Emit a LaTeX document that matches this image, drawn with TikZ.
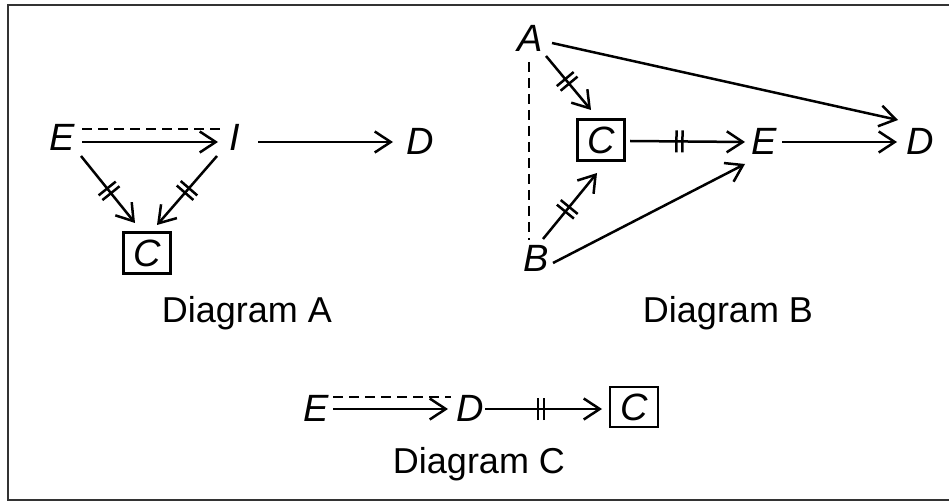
\documentclass[tikz,border=0pt]{standalone}
\usepackage{fontspec}
\setmainfont{Liberation Sans}
\usetikzlibrary{arrows.meta,calc,decorations.markings}
\tikzset{
  lt/.style={inner sep=0pt, font=\fontsize{38}{44}\selectfont\itshape},
  bx/.style={draw, line width=2.2pt, inner sep=0pt, minimum width=47pt, minimum height=41pt, font=\fontsize{38}{44}\selectfont\itshape},
  captxt/.style={inner sep=0pt, font=\fontsize{36}{42}\selectfont},
  ln/.style={line width=2.5pt},
  arr/.style={ln, -{Straight Barb[length=16pt,width=21pt,line width=2.5pt]}},
  dsh/.style={ln, dash pattern=on 10pt off 6pt},
  ticks/.style={postaction={decorate, decoration={markings, mark=at position #1 with {
     \draw[arrows=-, line width=2.5pt] (-3pt,-11pt) -- (-3pt,11pt);
     \draw[arrows=-, line width=2.5pt] (3pt,-11pt) -- (3pt,11pt);}}}},
  ticks/.default=0.5
}
\begin{document}
\begin{tikzpicture}[x=1pt,y=-1pt]
\useasboundingbox (0,0) rectangle (949,502);
\draw[line width=2pt, black!80] (949,5) -- (8,5) -- (8,500) -- (949,500);

% Diagram A
\node[lt] (EA) at (62,137) {E};
\node[lt] (IA) at (235,137) {I};
\node[lt] (DA) at (420,141) {D};
\node[bx] (CA) at (147,253) {C};
\node[captxt] (LA) at (247,313) {Diagram A};
\draw[dsh] ($(EA)+(20,-8)$) -- ($(IA)+(-12,-8)$);
\draw[arr] ($(EA)+(20,5)$) -- ($(IA)+(-17,5)$);
\draw[arr] ($(IA)+(23,5)$) -- ($(DA)+(-27,1)$);
\draw[arr, ticks=0.52] ($(EA)+(19,19)$) -- ($(CA)+(-12,-30)$);
\draw[arr, ticks=0.5] ($(IA)+(-18,19)$) -- ($(CA)+(10,-28)$);

% Diagram B
\node[lt] (AB) at (530,38) {A};
\node[lt] (BB) at (536,258) {B};
\node[bx] (CB) at (601,140) {C};
\node[lt] (EB) at (764,141) {E};
\node[lt] (DB) at (920,141) {D};
\node[captxt] (LB) at (728,313) {Diagram B};
\draw[dsh] ($(AB)+(-1,24)$) -- ($(BB)+(-7,-18)$);
\draw[arr, ticks=0.47] ($(AB)+(16,18)$) -- ($(CB)+(-10,-30)$);
\draw[arr, ticks=0.45] ($(BB)+(7,-19)$) -- ($(CB)+(-4,33)$);
\draw[arr, ticks=0.43] ($(CB)+(29,1)$) -- ($(EB)+(-19,1)$);
\draw[arr] ($(EB)+(18,1)$) -- ($(DB)+(-23,1)$);
\draw[arr] ($(AB)+(22,5)$) -- ($(DB)+(-22,-21)$);
\draw[arr] ($(BB)+(17,5)$) -- ($(EB)+(-19,23)$);

% Diagram C
\node[lt] (EC) at (316,408) {E};
\node[lt] (DC) at (470,408) {D};
\node[bx, minimum width=48pt, minimum height=40pt] (CC) at (634,407) {C};
\node[captxt] (LC) at (479,464) {Diagram C};
\draw[dsh] ($(EC)+(17,-11)$) -- ($(DC)+(-19,-11)$);
\draw[arr] ($(EC)+(17,1)$) -- ($(DC)+(-22,1)$);
\draw[arr, ticks=0.48] ($(DC)+(15,1)$) -- ($(CC)+(-32,2)$);
\end{tikzpicture}
\end{document}
